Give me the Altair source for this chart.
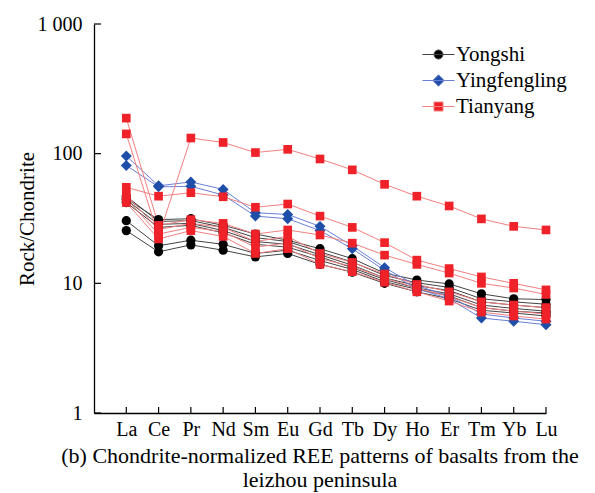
import altair as alt
import pandas as pd

ELEMENTS = ["La", "Ce", "Pr", "Nd", "Sm", "Eu", "Gd", "Tb", "Dy", "Ho", "Er", "Tm", "Yb", "Lu"]
SERIES = ["Yongshi", "Yingfengling", "Tianyang"]

YONGSHI = [
    [45.0, 31.0, 31.5, 28.0, 24.0, 21.5, 18.5, 15.5, 12.0, 10.6, 9.9, 8.3, 7.6, 7.5],
    [47.0, 30.0, 30.5, 27.0, 22.5, 21.0, 17.5, 14.6, 11.5, 10.1, 9.3, 7.6, 7.2, 6.9],
    [44.0, 28.5, 29.0, 25.5, 21.0, 20.0, 16.6, 13.8, 11.0, 9.6, 8.8, 7.2, 6.8, 6.5],
    [42.0, 27.0, 28.0, 24.5, 20.0, 19.0, 16.0, 13.2, 10.7, 9.2, 8.3, 6.8, 6.4, 6.1],
    [30.4, 19.5, 21.5, 20.0, 17.0, 18.0, 15.0, 12.8, 10.3, 9.0, 8.0, 6.5, 6.1, 5.9],
    [25.5, 17.5, 19.8, 18.0, 16.0, 17.0, 14.0, 12.2, 10.0, 8.6, 7.6, 6.2, 5.9, 5.6],
]
YINGFENGLING = [
    [96.0, 56.5, 60.5, 53.0, 35.0, 34.0, 27.5, 19.5, 13.2, 9.6, 8.0, 5.8, 5.4, 5.1],
    [81.0, 55.5, 56.0, 48.0, 33.0, 31.5, 25.5, 18.5, 12.6, 9.1, 7.6, 5.4, 5.1, 4.8],
]
TIANYANG = [
    [142.0, 23.0, 132.0, 122.0, 102.0, 108.0, 91.0, 75.0, 58.0, 47.0, 39.5, 31.4, 27.5, 25.8],
    [55.0, 47.0, 50.0, 46.5, 38.6, 40.9, 33.0, 27.0, 20.6, 15.1, 13.0, 11.2, 10.0, 8.9],
    [188.0, 28.0, 31.0, 29.0, 24.0, 25.8, 23.6, 20.4, 16.5, 14.0, 12.0, 10.0, 9.2, 8.2],
    [48.0, 26.0, 29.0, 27.0, 21.0, 23.0, 17.0, 14.5, 11.8, 9.8, 8.6, 7.2, 6.8, 6.5],
    [45.0, 24.0, 27.0, 25.0, 19.0, 20.5, 15.5, 13.5, 11.0, 9.2, 7.9, 6.5, 6.1, 5.8],
    [42.0, 22.0, 25.5, 23.0, 17.0, 18.5, 14.0, 12.3, 10.2, 8.6, 7.3, 6.0, 5.6, 5.3],
]
Y_TICKS = [1, 10, 100, 1000]
TITLE_LINES = ["(b) Chondrite-normalized REE patterns of basalts from the", "leizhou peninsula"]

rows = []
for name, group in zip(SERIES, [YONGSHI, YINGFENGLING, TIANYANG]):
    for k, vals in enumerate(group):
        for i, (el, v) in enumerate(zip(ELEMENTS, vals)):
            rows.append({"series": name, "sample": f"{name}-{k}", "element": el, "idx": i, "value": v})
df = pd.DataFrame(rows)

FONT = "Liberation Serif"
W, H = 452, 389

FILLS = ["#000000", "#1f4ea8", "#ee2228"]
LINES = ["#444444", "#6a80d8", "#f47f7f"]
SHAPES = ["circle", "diamond", "square"]
SIZES = [85, 120, 75]
LEGEND_PATHS = [
    "M-2.667,0H2.667M0.75,0A0.75,0.75,0,1,1,-0.75,0A0.75,0.75,0,1,1,0.75,0Z",
    "M-2.667,0H2.667M0,-0.95L0.95,0L0,0.95L-0.95,0Z",
    "M-2.667,0H2.667M-0.75,-0.75H0.75V0.75H-0.75Z",
]

label_array = "[" + ",".join(f"'{e}'" for e in ELEMENTS) + "]"

X = alt.X(
    "idx:Q",
    scale=alt.Scale(domain=[-1, len(ELEMENTS) - 1], nice=False, zero=False),
    axis=alt.Axis(
        values=list(range(len(ELEMENTS))),
        labelExpr=f"{label_array}[datum.value]",
        title=None,
        ticks=False,
        grid=False,
        labelPadding=6,
        labelFlush=False,
        labelFont=FONT,
        labelFontSize=20,
        labelColor="black",
        domainColor="black",
        domainWidth=1.3,
    ),
)
Y = alt.Y(
    "value:Q",
    scale=alt.Scale(type="log", domain=[1, 1000], nice=False),
    axis=alt.Axis(
        values=Y_TICKS,
        labelExpr="datum.value >= 1000 ? '1 000' : format(datum.value, 'd')",
        title="Rock/Chondrite",
        ticks=False,
        grid=False,
        labelPadding=12,
        titlePadding=0,
        labelFont=FONT,
        labelFontSize=20,
        labelColor="black",
        titleFont=FONT,
        titleFontSize=21,
        titleFontWeight="normal",
        titleColor="black",
        domainColor="black",
        domainWidth=1.3,
    ),
)

base = alt.Chart(df)
layers = []
for name, lc in zip(SERIES, LINES):
    layers.append(
        base.transform_filter(alt.datum.series == name)
        .mark_line(color=lc, strokeWidth=1)
        .encode(x=X, y=Y, detail="sample:N", order="idx:Q")
    )
for name, fc, shp, sz in zip(SERIES, FILLS, SHAPES, SIZES):
    layers.append(
        base.transform_filter(alt.datum.series == name)
        .mark_point(filled=True, color=fc, shape=shp, size=sz, opacity=1)
        .encode(x=X, y=Y)
    )

LEG = alt.Legend(
    title=None,
    orient="none",
    legendX=334,
    legendY=20,
    labelFont=FONT,
    labelFontSize=21,
    labelColor="black",
    symbolSize=144,
    symbolStrokeWidth=1,
    symbolOpacity=1,
    labelOffset=7,
    rowPadding=4,
)
legend_layer = base.mark_point(filled=True, opacity=0).encode(
    x=X,
    y=Y,
    fill=alt.Fill("series:N", scale=alt.Scale(domain=SERIES, range=FILLS), legend=LEG),
    stroke=alt.Stroke("series:N", scale=alt.Scale(domain=SERIES, range=LINES), legend=LEG),
    shape=alt.Shape("series:N", scale=alt.Scale(domain=SERIES, range=LEGEND_PATHS), legend=LEG),
)
layers.append(legend_layer)

ytick = alt.Chart(pd.DataFrame({"value": Y_TICKS})).mark_rule(color="black", strokeWidth=1.2).encode(
    y=Y, x=alt.value(0), x2=alt.value(7)
)
xtick = alt.Chart(pd.DataFrame({"idx": list(range(len(ELEMENTS)))})).mark_rule(color="black", strokeWidth=1.2).encode(
    x=X, y=alt.value(H), y2=alt.value(H - 6)
)
layers += [ytick, xtick]

chart = (
    alt.layer(*layers)
    .properties(
        width=W,
        height=H,
        background="white",
        autosize=alt.AutoSizeParams(type="none"),
        padding={"left": 94, "top": 24, "right": 49, "bottom": 80},
        title=alt.TitleParams(
            text=TITLE_LINES,
            orient="bottom",
            anchor="middle",
            font=FONT,
            fontSize=22,
            fontWeight="normal",
            color="black",
            lineHeight=23.5,
            offset=7,
        ),
    )
    .configure(font=FONT)
    .configure_view(stroke=None)
    .configure_legend(labelFont=FONT, labelFontSize=21, labelColor="black")
)

chart.save("out.html", embed_options={"renderer": "svg", "actions": False})
